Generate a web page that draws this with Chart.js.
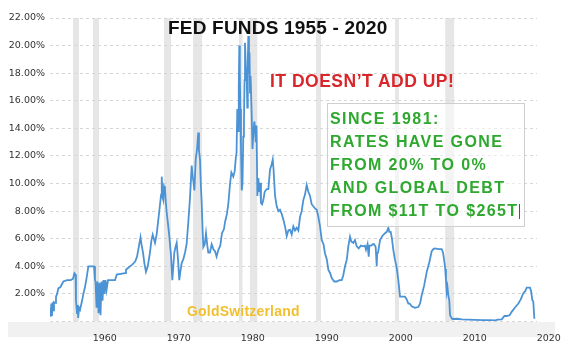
<!DOCTYPE html>
<html>
<head>
<meta charset="utf-8">
<script src="https://cdn.jsdelivr.net/npm/chart.js@4.4.1/dist/chart.umd.min.js"></script>
<style>
  body { margin: 0; background: #fff; }
  #wrap { position: relative; width: 569px; height: 352px; overflow: hidden; }
  .note { position: absolute; font-family: "Liberation Sans", Arial, sans-serif; font-weight: bold; white-space: nowrap; line-height: 1; }
  #title { left: 168px; top: 17.5px; font-size: 19px; color: #111; letter-spacing: 0.2px; }
  #warn { left: 270px; top: 72.7px; font-size: 17.5px; color: #d8262b; letter-spacing: 0.5px; }
  #box { left: 327px; top: 103px; width: 198px; height: 124px; box-sizing: border-box; border: 1px solid #cfcfcf;
         background: rgba(255,255,255,0.55); padding: 3px 0 0 2px; font-size: 16px; line-height: 23.1px;
         color: #2ea82e; letter-spacing: 1.4px; }
  #cursor { position: absolute; left: 519px; top: 204px; width: 1px; height: 15px; background: #555; }
  #brand { left: 187px; top: 304px; font-size: 14px; color: #f1bf2f; letter-spacing: 0.2px; }
</style>
</head>
<body>
<div id="wrap">
  <canvas id="c" width="569" height="352"></canvas>
  <div class="note" id="title">FED FUNDS 1955 - 2020</div>
  <div class="note" id="warn">IT DOESN’T ADD UP!</div>
  <div class="note" id="box">SINCE 1981:<br>RATES HAVE GONE<br>FROM 20% TO 0%<br>AND GLOBAL DEBT<br>FROM $11T TO $265T</div>
  <div id="cursor"></div>
  <div class="note" id="brand">GoldSwitzerland</div>
</div>
<script>
// effective fed funds rate (year, %)
const years = [
  1954.49, 1954.58, 1954.67, 1954.76, 1954.85, 1954.94, 1955.03, 1955.17, 1955.3, 1955.45,
  1955.61, 1955.9, 1956.29, 1956.79, 1957.3, 1957.6, 1957.78, 1957.94, 1958.0, 1958.14,
  1958.22, 1958.3, 1958.41, 1958.55, 1958.82, 1959.0, 1959.22, 1959.45, 1959.67, 1960.44,
  1960.57, 1960.64, 1960.78, 1960.91, 1961.05, 1961.18, 1961.32, 1961.45, 1961.59, 1961.72,
  1961.86, 1961.99, 1962.13, 1962.33, 1963.28, 1963.51, 1964.63, 1964.76, 1965.3, 1965.57,
  1966.0, 1966.25, 1966.52, 1966.72, 1966.85, 1967.06, 1967.25, 1967.46, 1967.7, 1968.0,
  1968.2, 1968.37, 1968.68, 1968.9, 1969.13, 1969.36, 1969.5, 1969.59, 1969.7, 1969.8,
  1969.9, 1970.03, 1970.15, 1970.26, 1970.45, 1970.61, 1970.84, 1971.02, 1971.15, 1971.29,
  1971.45, 1971.61, 1971.79, 1971.96, 1972.1, 1972.29, 1972.5, 1972.74, 1972.95, 1973.18,
  1973.41, 1973.64, 1973.75, 1973.86, 1974.0, 1974.18, 1974.36, 1974.53, 1974.62, 1974.76,
  1974.88, 1974.99, 1975.1, 1975.21, 1975.4, 1975.57, 1975.75, 1975.88, 1976.1, 1976.34,
  1976.6, 1976.79, 1977.0, 1977.24, 1977.5, 1977.73, 1978.0, 1978.14, 1978.4, 1978.6,
  1978.82, 1979.0, 1979.26, 1979.45, 1979.59, 1979.7, 1979.8, 1979.9, 1980.0, 1980.07,
  1980.14, 1980.21, 1980.3, 1980.4, 1980.5, 1980.61, 1980.7, 1980.78, 1980.84, 1980.95,
  1981.07, 1981.15, 1981.22, 1981.29, 1981.38, 1981.45, 1981.52, 1981.6, 1981.75, 1981.85,
  1981.96, 1982.1, 1982.2, 1982.29, 1982.4, 1982.51, 1982.65, 1982.75, 1982.87, 1983.0,
  1983.15, 1983.32, 1983.5, 1983.78, 1984.0, 1984.22, 1984.4, 1984.59, 1984.7, 1984.9,
  1985.13, 1985.35, 1985.57, 1985.8, 1986.02, 1986.25, 1986.48, 1986.7, 1986.92, 1987.15,
  1987.37, 1987.6, 1987.83, 1988.05, 1988.28, 1988.5, 1988.72, 1988.95, 1989.18, 1989.4,
  1989.63, 1989.85, 1990.07, 1990.3, 1990.53, 1990.75, 1990.98, 1991.21, 1991.45, 1991.65,
  1991.9, 1992.1, 1992.35, 1992.56, 1992.9, 1993.24, 1993.6, 1993.91, 1994.1, 1994.36,
  1994.6, 1994.8, 1995.03, 1995.2, 1995.48, 1995.7, 1995.94, 1996.2, 1996.5, 1996.83,
  1997.05, 1997.19, 1997.4, 1997.56, 1997.65, 1997.9, 1998.1, 1998.28, 1998.5, 1998.64,
  1998.7, 1998.82, 1999.09, 1999.4, 1999.76, 2000.0, 2000.21, 2000.35, 2000.53, 2000.7,
  2000.88, 2001.1, 2001.34, 2001.56, 2001.79, 2002.1, 2002.46, 2002.7, 2002.91, 2003.1,
  2003.37, 2003.8, 2004.26, 2004.5, 2004.72, 2005.05, 2005.4, 2005.75, 2006.07, 2006.3,
  2006.52, 2007.0, 2007.42, 2007.6, 2007.78, 2007.9, 2008.0, 2008.1, 2008.2, 2008.32,
  2008.45, 2008.55, 2008.7, 2008.86, 2009.5, 2010.13, 2011.0, 2011.92, 2013.0, 2014.0,
  2014.63, 2015.0, 2015.53, 2015.9, 2016.21, 2016.6, 2016.88, 2017.3, 2017.78, 2018.1,
  2018.45, 2018.7, 2018.91, 2019.36, 2019.5, 2019.67, 2019.8, 2019.94
];
const rates = [
  1.0, 0.35, 1.3, 0.4, 1.4, 0.8, 1.4, 1.35, 1.8, 2.0,
  2.4, 2.5, 2.9, 3.0, 3.0, 3.1, 3.5, 3.4, 1.5, 0.6,
  1.2, 0.25, 1.0, 0.85, 1.5, 2.0, 2.5, 3.2, 4.0, 4.0,
  3.0, 2.9, 1.0, 2.9, 0.6, 2.8, 0.45, 2.9, 1.5, 3.0,
  2.0, 3.0, 2.3, 3.0, 3.0, 3.4, 3.5, 3.75, 4.0, 4.1,
  4.35, 4.7, 5.5, 6.1, 5.6, 5.0, 4.2, 3.6, 4.0, 5.0,
  5.9, 6.3, 5.7, 6.3, 7.4, 8.5, 9.2, 10.5, 9.0, 8.8,
  9.8, 9.6, 8.6, 7.9, 7.0, 6.2, 4.8, 3.0, 4.0, 5.0,
  5.4, 5.7, 4.5, 3.0, 3.6, 4.25, 4.5, 5.0, 5.6, 7.2,
  9.0, 11.3, 10.6, 10.2, 9.5, 11.75, 12.5, 13.7, 12.4, 11.75,
  9.8, 8.6, 6.8, 5.4, 5.6, 6.4, 5.5, 5.0, 5.0, 5.6,
  5.2, 5.1, 4.7, 5.2, 5.5, 6.4, 6.7, 7.2, 7.8, 8.6,
  10.0, 10.8, 10.5, 10.9, 11.8, 12.25, 15.4, 13.8, 17.0, 20.0,
  18.0, 15.4, 12.5, 9.5, 10.0, 13.4, 14.5, 17.5, 20.2, 18.5,
  17.8, 15.5, 18.8, 20.7, 18.0, 19.5, 16.6, 17.8, 14.9, 12.5,
  13.5, 14.5, 14.0, 13.0, 14.2, 9.1, 10.4, 9.4, 10.05, 8.6,
  8.5, 8.8, 9.4, 9.6, 9.6, 11.0, 11.3, 11.75, 11.0, 9.1,
  8.35, 8.0, 8.1, 7.8, 7.4, 6.9, 6.2, 6.6, 6.65, 6.3,
  6.9, 6.6, 6.8, 6.6, 7.6, 8.0, 8.8, 9.2, 9.9, 9.4,
  9.1, 8.5, 8.35, 8.2, 8.1, 7.6, 6.9, 5.9, 5.6, 4.95,
  4.5, 3.75, 3.5, 3.15, 2.9, 2.9, 3.0, 3.0, 3.3, 4.0,
  4.5, 5.45, 6.15, 5.8, 5.7, 5.9, 5.45, 5.3, 5.5, 5.45,
  5.5, 5.2, 5.6, 4.7, 5.5, 5.5, 5.6, 5.6, 5.4, 4.0,
  4.9, 5.0, 5.9, 6.2, 6.4, 6.5, 6.8, 6.5, 6.5, 6.0,
  5.2, 4.5, 3.9, 3.0, 1.8, 1.8, 1.8, 1.6, 1.3, 1.3,
  1.1, 1.0, 1.05, 1.3, 1.9, 2.6, 3.6, 4.3, 5.1, 5.25,
  5.3, 5.25, 5.25, 5.0, 4.35, 3.8, 3.0, 2.15, 2.5, 1.9,
  1.5, 0.47, 0.3, 0.18, 0.2, 0.15, 0.14, 0.12, 0.1, 0.1,
  0.08, 0.13, 0.15, 0.4, 0.4, 0.45, 0.7, 1.0, 1.3, 1.6,
  2.05, 2.2, 2.45, 2.45, 2.2, 1.55, 1.45, 0.2
];

// recession shading
const recessionStart = [1957.6, 1960.3, 1969.9, 1973.82, 1980.03, 1981.5, 1990.44, 2001.11, 2007.89];
const recessionEnd   = [1958.41, 1961.11, 1970.84, 1975.04, 1980.5, 1982.5, 1991.11, 2001.65, 2009.1];

const xMin = 1954.49;
const xMax = 2020.3;

const bands = {
  id: "bands",
  beforeDraw(chart) {
    const { ctx, chartArea: a, scales: { x } } = chart;
    ctx.save();
    ctx.fillStyle = "#f1f1f1";
    ctx.fillRect(8, 322, 547, 15);
    ctx.fillStyle = "#e6e6e6";
    recessionStart.forEach((s, i) => {
      const x0 = x.getPixelForValue(s);
      const x1 = x.getPixelForValue(recessionEnd[i]);
      ctx.fillRect(x0, a.top, x1 - x0, a.bottom - a.top);
    });
    ctx.restore();
  },
};

const tickFont = { family: "DejaVu Sans", size: 9.5 };

new Chart(document.getElementById("c"), {
  type: "line",
  data: {
    datasets: [{
      data: years.map((x, i) => ({ x, y: rates[i] })),
      borderColor: "#4c93d6",
      borderWidth: 1.8,
      pointRadius: 0,
      tension: 0,
      fill: false,
    }],
  },
  options: {
    responsive: false,
    animation: false,
    layout: { padding: { left: 0, right: 32, top: 18, bottom: 0 } },
    plugins: { legend: { display: false }, tooltip: { enabled: false } },
    scales: {
      x: {
        type: "linear",
        min: xMin,
        max: xMax,
        afterFit(s) { s.height = 30.5; },
        grid: { display: false },
        border: { display: false },
        ticks: {
          stepSize: 10,
          includeBounds: false,
          autoSkip: false,
          maxRotation: 0,
          labelOffset: 14,
          padding: 3,
          color: "#333",
          font: tickFont,
          callback: (v) => String(v),
        },
      },
      y: {
        min: 0,
        max: 22,
        afterFit(s) { s.width = 50; },
        grid: { color: "#d6d6d6", drawTicks: false },
        border: { display: false, dash: [3, 3] },
        ticks: {
          stepSize: 2,
          padding: 5,
          color: "#333",
          font: tickFont,
          callback: (v) => (v === 0 ? "" : v.toFixed(2) + "%"),
        },
      },
    },
  },
  plugins: [bands],
});
</script>
</body>
</html>
